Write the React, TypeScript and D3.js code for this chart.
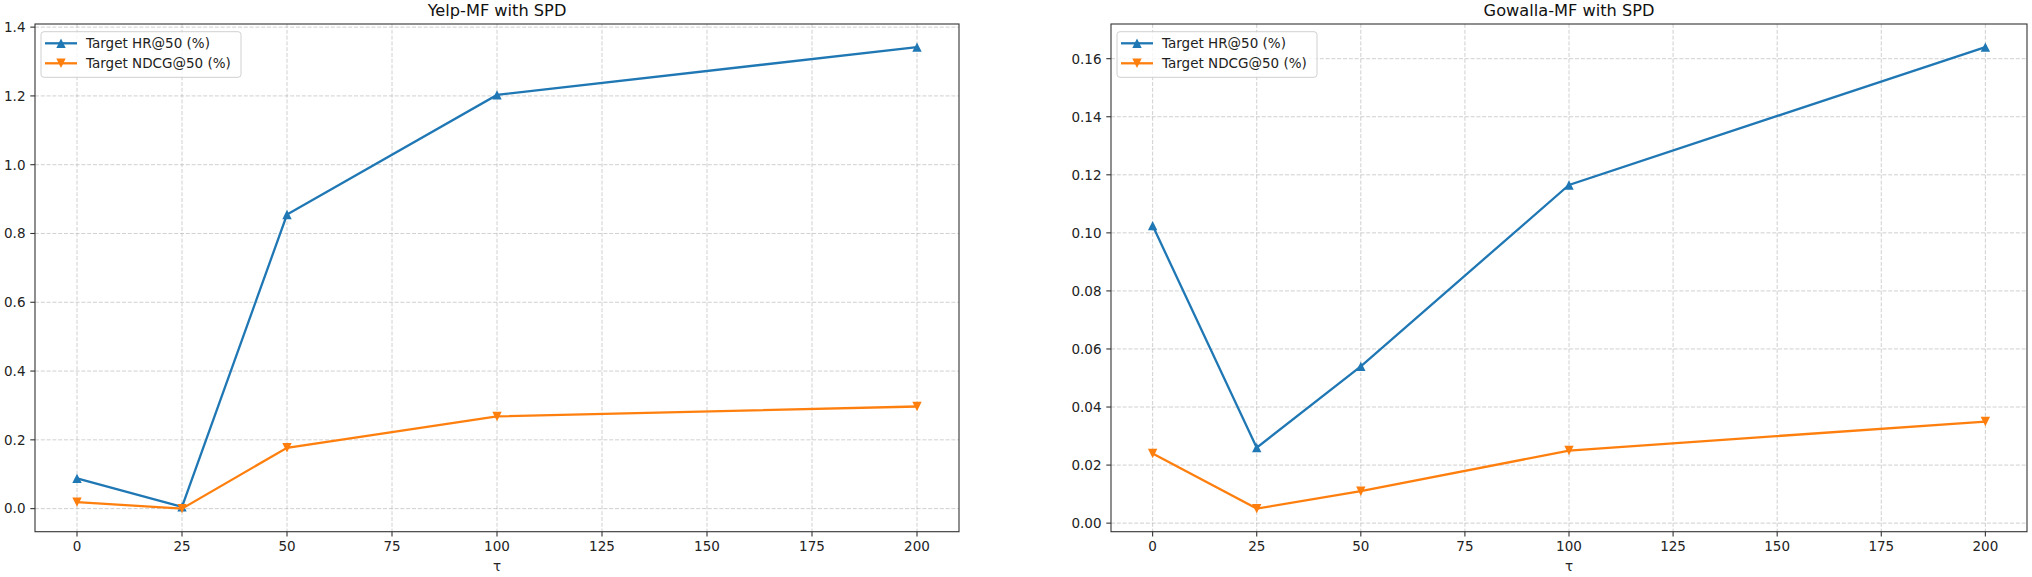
import React from "react";
import * as d3 from "d3";

const taus = [0, 25, 50, 100, 200];
const xTicks = [0, 25, 50, 75, 100, 125, 150, 175, 200];

const yelpHR = [0.088, 0.005, 0.855, 1.203, 1.342];
const yelpNDCG = [0.019, 0.0, 0.177, 0.268, 0.297];
const yelpYTicks = [0, 0.2, 0.4, 0.6, 0.8, 1.0, 1.2, 1.4];

const gowallaHR = [0.1025, 0.026, 0.054, 0.1165, 0.164];
const gowallaNDCG = [0.024, 0.005, 0.011, 0.025, 0.035];
const gowallaYTicks = [0, 0.02, 0.04, 0.06, 0.08, 0.1, 0.12, 0.14, 0.16];

const seriesNames = ["Target HR@50 (%)", "Target NDCG@50 (%)"];
const BLUE = "#1f77b4";
const ORANGE = "#ff7f0e";
const FONT = "DejaVu Sans, sans-serif";

interface IPanelProps {
    title: string;
    left: number;
    right: number;
    hr: number[];
    ndcg: number[];
    yTicks: number[];
    yFormat: (v: number) => string;
}

const TOP = 24;
const BOTTOM = 531.7;

function triangle(cx: number, cy: number, up: boolean, r = 4.7) {
    const s = up ? 1 : -1;
    return `M${cx},${cy - s * r}L${cx - r},${cy + s * r}L${cx + r},${cy + s * r}Z`;
}

function Panel(props: IPanelProps) {
    const { left, right, hr, ndcg, yTicks } = props;
    const x = d3.scaleLinear([-10, 210], [left, right]);
    const all = hr.concat(ndcg);
    const lo = d3.min(all)!;
    const hi = d3.max(all)!;
    const pad = (hi - lo) * 0.05;
    const y = d3.scaleLinear([lo - pad, hi + pad], [BOTTOM, TOP]);

    const line = d3.line<number>()
        .x((d, i) => x(taus[i]))
        .y((d) => y(d));

    const series = [
        { values: hr, color: BLUE, up: true },
        { values: ndcg, color: ORANGE, up: false },
    ];

    const legX = left + 6;
    const legY = TOP + 7.7;

    return <g>
        <rect x={left} y={TOP} width={right - left} height={BOTTOM - TOP} fill="white" />
        <g name="grid">
            {xTicks.map((t) => (
                <line key={"gx" + t} x1={x(t)} x2={x(t)} y1={TOP} y2={BOTTOM}
                    stroke="#b0b0b0" strokeOpacity={0.6} strokeWidth={1} strokeDasharray="4,1.8" />
            ))}
            {yTicks.map((t) => (
                <line key={"gy" + t} x1={left} x2={right} y1={y(t)} y2={y(t)}
                    stroke="#b0b0b0" strokeOpacity={0.6} strokeWidth={1} strokeDasharray="4,1.8" />
            ))}
        </g>
        {series.map((s, si) => (
            <g key={si}>
                <path d={line(s.values)!} fill="none" stroke={s.color} strokeWidth={2.3} />
                {s.values.map((v, i) => (
                    <path key={i} d={triangle(x(taus[i]), y(v), s.up)} fill={s.color} />
                ))}
            </g>
        ))}
        <rect x={left} y={TOP} width={right - left} height={BOTTOM - TOP}
            fill="none" stroke="#333" strokeWidth={1.1} />
        <g name="xTicks" fontFamily={FONT} fontSize={13.5} fill="#222">
            {xTicks.map((t) => (
                <g key={t}>
                    <line x1={x(t)} x2={x(t)} y1={BOTTOM} y2={BOTTOM + 4.7} stroke="#333" strokeWidth={1.1} />
                    <text x={x(t)} y={BOTTOM + 9.5} dy="0.76em" textAnchor="middle">{t}</text>
                </g>
            ))}
        </g>
        <g name="yTicks" fontFamily={FONT} fontSize={13.5} fill="#222">
            {yTicks.map((t) => (
                <g key={t}>
                    <line x1={left - 4.7} x2={left} y1={y(t)} y2={y(t)} stroke="#333" strokeWidth={1.1} />
                    <text x={left - 9.5} y={y(t)} dy="0.36em" textAnchor="end">{props.yFormat(t)}</text>
                </g>
            ))}
        </g>
        <text x={(left + right) / 2} y={TOP - 8} textAnchor="middle" fontFamily={FONT} fontSize={16.2} fill="#111">
            {props.title}
        </text>
        <text x={(left + right) / 2} y={571} textAnchor="middle" fontFamily={FONT} fontSize={13.5} fill="#222">τ</text>
        <g name="legend">
            <rect x={legX} y={legY} width={200} height={45.6} rx={3}
                fill="white" fillOpacity={0.8} stroke="#d0d0d0" strokeWidth={1} />
            {series.map((s, i) => {
                const ly = legY + 11.6 + i * 20;
                return <g key={i}>
                    <line x1={legX + 4} x2={legX + 36} y1={ly} y2={ly} stroke={s.color} strokeWidth={2.3} />
                    <path d={triangle(legX + 20, ly, s.up)} fill={s.color} />
                    <text x={legX + 45} y={ly} dy="0.36em" fontFamily={FONT} fontSize={13.5} fill="#222">
                        {seriesNames[i]}
                    </text>
                </g>;
            })}
        </g>
    </g>;
}

export default function App() {
    return <svg width={2032} height={577} style={{ position: "absolute", left: 0, top: 0, background: "white" }}>
        <rect width={2032} height={577} fill="white" />
        <Panel title="Yelp-MF with SPD" left={35} right={959} hr={yelpHR} ndcg={yelpNDCG}
            yTicks={yelpYTicks} yFormat={d3.format(".1f")} />
        <Panel title="Gowalla-MF with SPD" left={1111} right={2027} hr={gowallaHR} ndcg={gowallaNDCG}
            yTicks={gowallaYTicks} yFormat={d3.format(".2f")} />
    </svg>;
}
